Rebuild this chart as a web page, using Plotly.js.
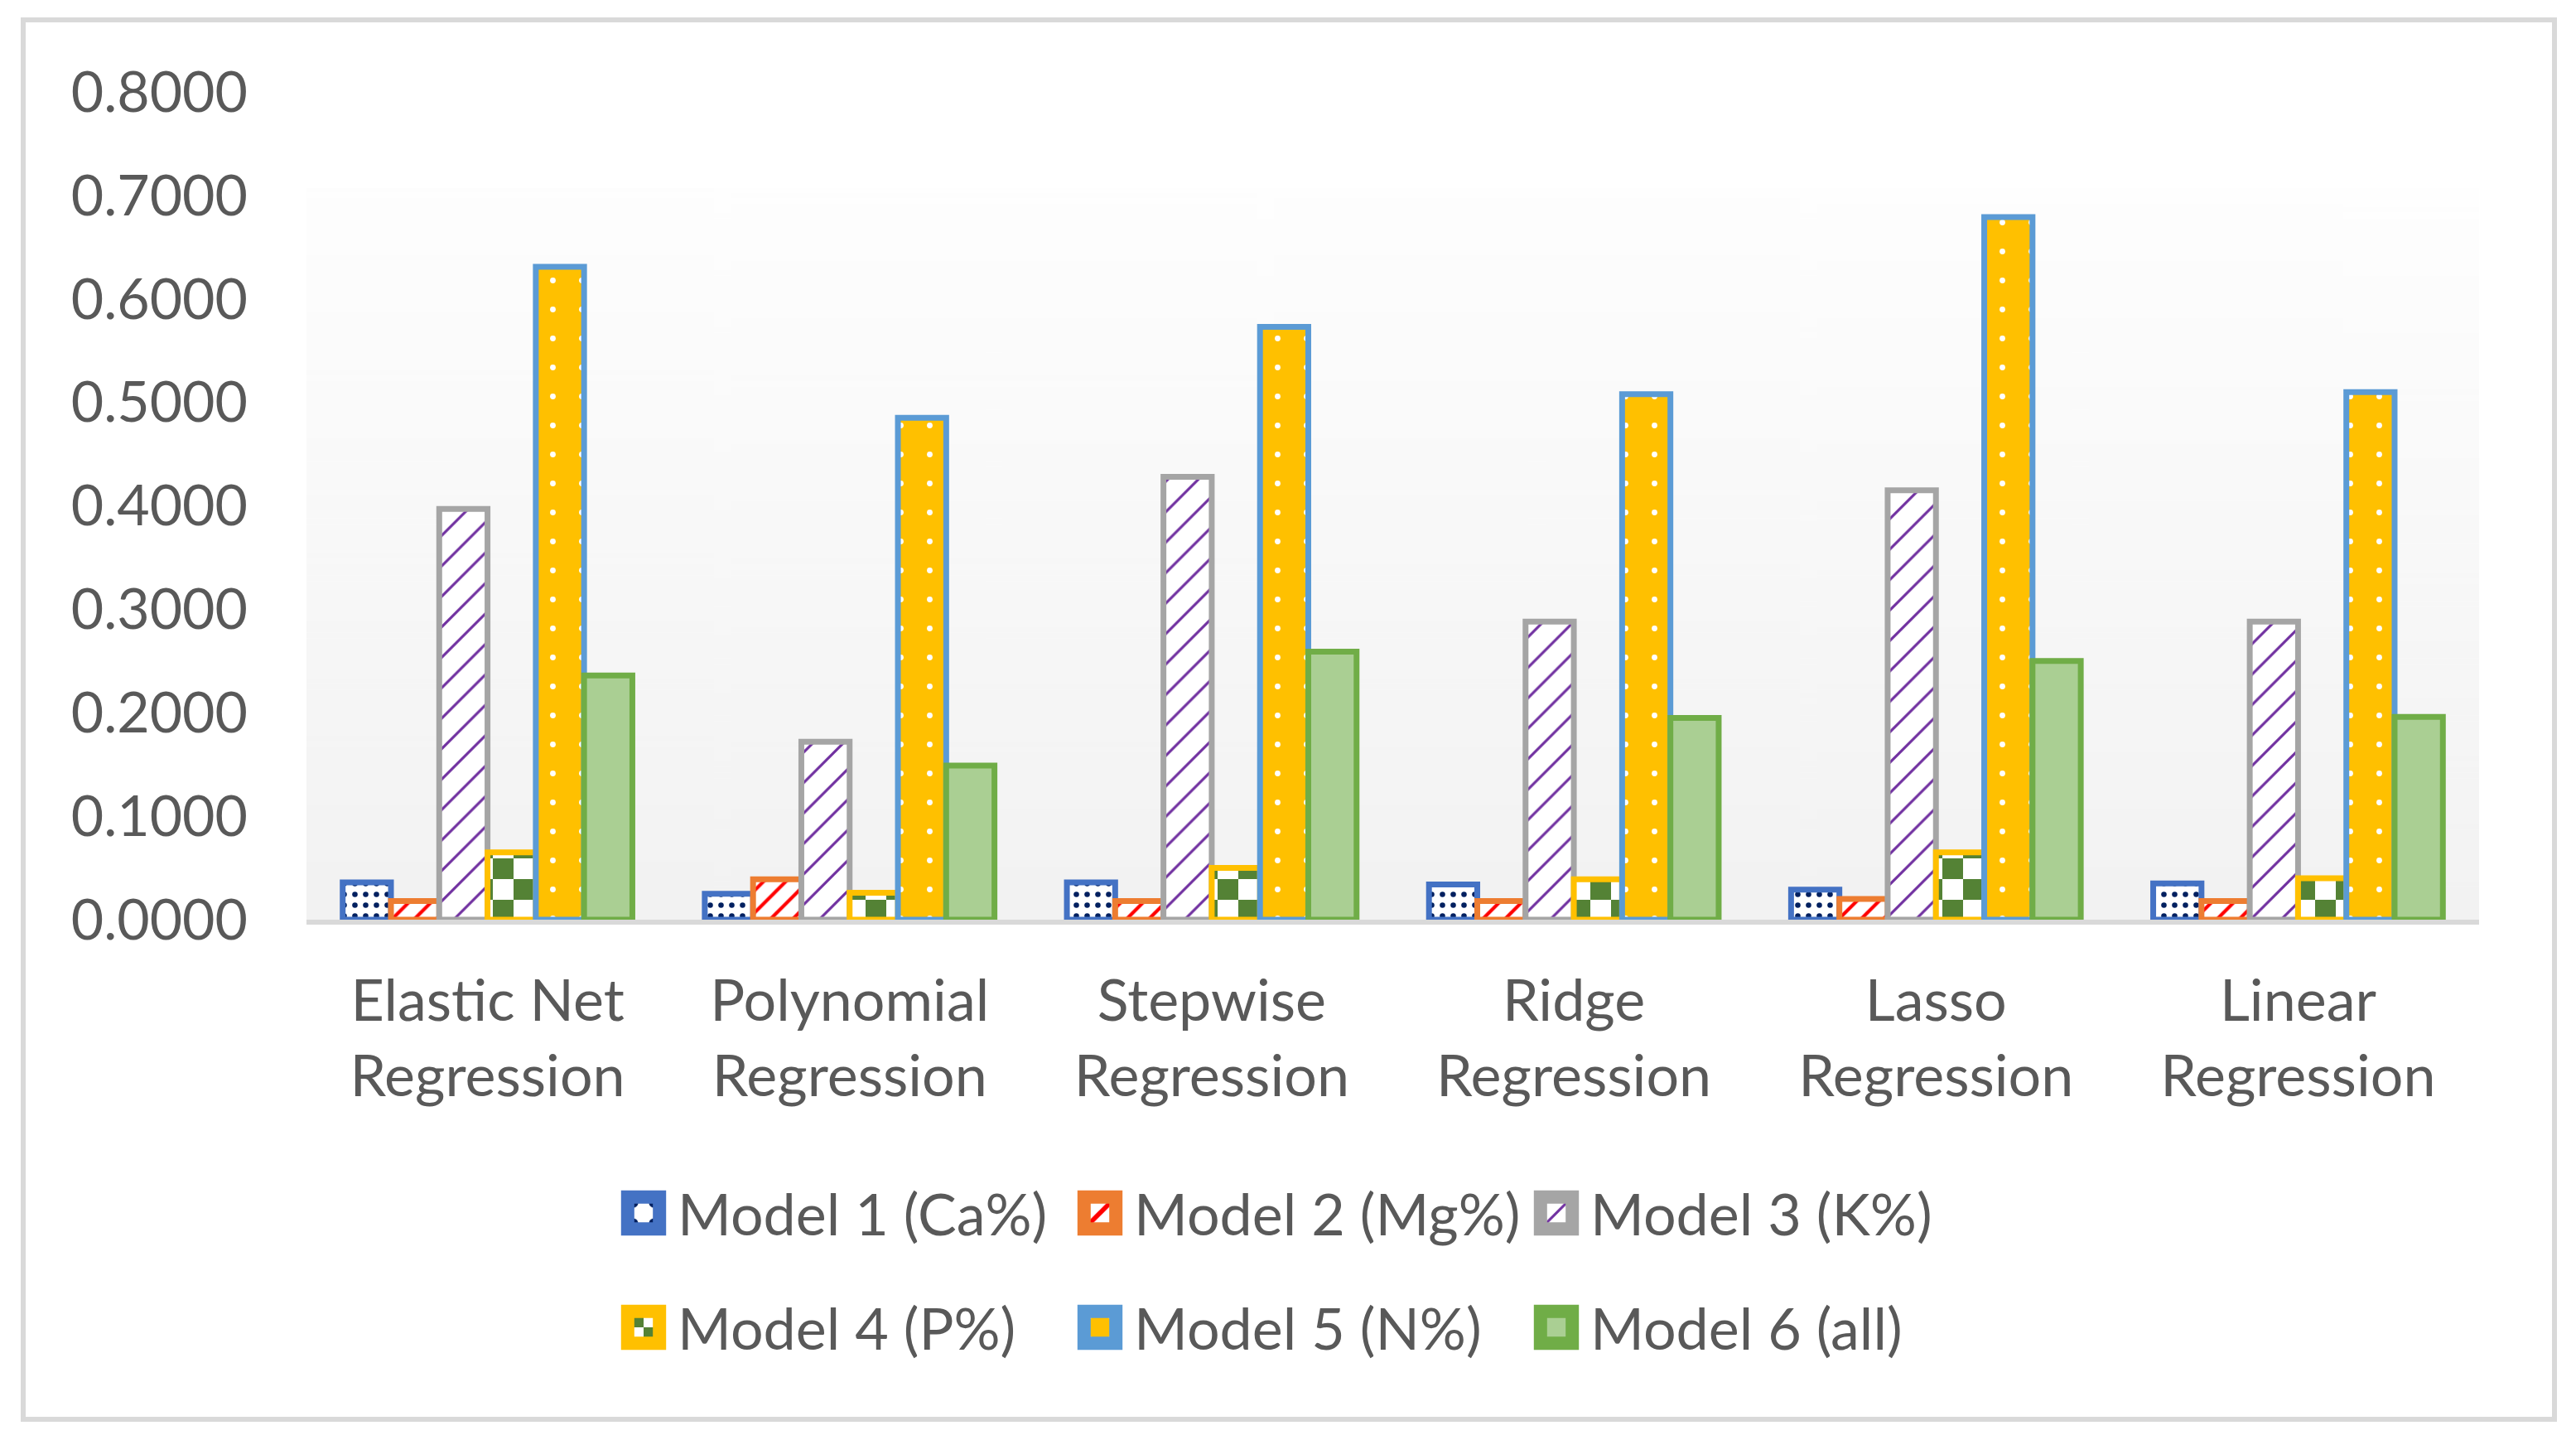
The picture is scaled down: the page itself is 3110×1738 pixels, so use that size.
<!DOCTYPE html>
<html>
<head>
<meta charset="utf-8">
<script src="https://cdn.plot.ly/plotly-3.0.1.min.js"></script>
<style>
  html, body { margin: 0; padding: 0; background: #ffffff; }
  #chart { width: 3110px; height: 1738px; }
</style>
</head>
<body>
<div id="chart"></div>
<script>
// ---- data ----
const categories = [
  'Elastic Net<br>Regression',
  'Polynomial<br>Regression',
  'Stepwise<br>Regression',
  'Ridge<br>Regression',
  'Lasso<br>Regression',
  'Linear<br>Regression'
];
const seriesNames = ['Model 1 (Ca%)', 'Model 2 (Mg%)', 'Model 3 (K%)', 'Model 4 (P%)', 'Model 5 (N%)', 'Model 6 (all)'];
const model1 = [0.036, 0.025, 0.036, 0.034, 0.029, 0.035];
const model2 = [0.018, 0.039, 0.018, 0.018, 0.020, 0.018];
const model3 = [0.397, 0.172, 0.428, 0.288, 0.415, 0.288];
const model4 = [0.065, 0.026, 0.050, 0.039, 0.065, 0.040];
const model5 = [0.631, 0.485, 0.573, 0.508, 0.679, 0.510];
const model6 = [0.236, 0.149, 0.259, 0.195, 0.250, 0.196];
const tickValues = [0, 0.1, 0.2, 0.3, 0.4, 0.5, 0.6, 0.7, 0.8];

// ---- styles ----
const FONT = 'Lato, "Open Sans", sans-serif';
const TXT = '#595959';
const LW = 7;
const styles = [
  {line: '#4472c4', pattern: {shape: '.', fgcolor: '#002060', bgcolor: '#ffffff', size: 13, solidity: 0.2, fillmode: 'replace'}},
  {line: '#ed7d31', pattern: {shape: '/', fgcolor: '#ff0000', bgcolor: '#ffffff', size: 19, solidity: 0.22, fillmode: 'replace'}},
  {line: '#a5a5a5', pattern: {shape: '/', fgcolor: '#7030a0', bgcolor: '#ffffff', size: 26, solidity: 0.12, fillmode: 'replace'}},
  {line: '#ffc000', pattern: {shape: '+', fgcolor: '#548235', bgcolor: '#ffffff', size: 50, solidity: 0.5, fillmode: 'replace'}},
  {line: '#5b9bd5', pattern: {shape: '.', fgcolor: '#ffffff', bgcolor: '#ffc000', size: 35, solidity: 0.03, fillmode: 'replace'}},
  {line: '#70ad47', color: '#aacf93'}
];
const seriesValues = [model1, model2, model3, model4, model5, model6];

const traces = seriesValues.map((vals, i) => {
  const st = styles[i];
  const marker = {line: {color: st.line, width: LW}};
  if (st.pattern) { marker.color = st.pattern.bgcolor; marker.pattern = st.pattern; }
  else { marker.color = st.color; }
  return {
    type: 'bar', x: categories, y: vals, name: seriesNames[i],
    marker: marker,
    legend: i < 3 ? 'legend' : 'legend2',
    hoverinfo: 'x+y+name'
  };
});

// gradient background for the inner plot area
function gradientURL() {
  const c = document.createElement('canvas');
  c.width = 8; c.height = 256;
  const g = c.getContext('2d');
  const grd = g.createLinearGradient(0, 0, 0, 256);
  grd.addColorStop(0, '#fefefe');
  grd.addColorStop(1, '#f2f2f2');
  g.fillStyle = grd; g.fillRect(0, 0, 8, 256);
  return c.toDataURL('image/png');
}

const W = 3110, H = 1738;
const mL = 370, mR = 117, mT = 111, mB = 628;
const pw = W - mL - mR, ph = H - mT - mB;
const px = v => (v - mL) / pw;
const py = v => (H - mB - v) / ph;
const bgTop = 0.707;

const legendCommon = {
  orientation: 'h', xanchor: 'left', yanchor: 'middle',
  font: {family: FONT, size: 70, color: TXT},
  bgcolor: 'rgba(0,0,0,0)', borderwidth: 0,
  entrywidth: 464, entrywidthmode: 'pixels', itemwidth: 72,
  traceorder: 'normal'
};

const layout = {
  width: W, height: H,
  margin: {l: mL, r: mR, t: mT, b: mB, pad: 0},
  paper_bgcolor: '#ffffff',
  plot_bgcolor: 'rgba(0,0,0,0)',
  barmode: 'group', bargap: 0.2, bargroupgap: 0,
  font: {family: FONT, color: TXT},
  xaxis: {
    type: 'category', showgrid: false, zeroline: false,
    showline: true, linecolor: '#d9d9d9', linewidth: 6,
    ticks: '', tickfont: {family: FONT, size: 70, color: TXT},
    ticklabelstandoff: 32, fixedrange: true
  },
  yaxis: {
    range: [0, 0.8], tickvals: tickValues, tickformat: '.4f',
    showgrid: false, zeroline: false, showline: false, ticks: '',
    tickfont: {family: FONT, size: 68, color: TXT},
    ticklabelstandoff: 70, fixedrange: true
  },
  images: [{
    source: gradientURL(), xref: 'paper', yref: 'y',
    x: 0, y: bgTop, sizex: 1, sizey: bgTop, sizing: 'stretch',
    xanchor: 'left', yanchor: 'top', layer: 'below'
  }],
  shapes: [{
    type: 'rect', xref: 'paper', yref: 'paper',
    x0: px(28), x1: px(3084), y0: py(1713), y1: py(24),
    line: {color: '#d9d9d9', width: 6}, fillcolor: 'rgba(0,0,0,0)', layer: 'below'
  }],
  legend: Object.assign({}, legendCommon, {x: px(736), y: py(1464)}),
  legend2: Object.assign({}, legendCommon, {x: px(736), y: py(1602)}),
  showlegend: true
};

function decorate() {
  // checkerboard for model 4
  document.querySelectorAll('pattern').forEach(p => {
    if (p.getAttribute('data-done')) return;
    const path = p.querySelector('path');
    if (!path) return;
    const stroke = (path.getAttribute('stroke') || path.style.stroke || '').replace(/\s/g, '');
    if (stroke === '#548235' || stroke === 'rgb(84,130,53)') {
      const ns = 'http://www.w3.org/2000/svg';
      while (p.firstChild) p.removeChild(p.firstChild);
      p.setAttribute('width', 50); p.setAttribute('height', 50);
      const mk = (x, y, w, h, f) => { const r = document.createElementNS(ns, 'rect');
        r.setAttribute('x', x); r.setAttribute('y', y); r.setAttribute('width', w); r.setAttribute('height', h);
        r.setAttribute('fill', f); p.appendChild(r); };
      mk(0, 0, 50, 50, '#ffffff');
      mk(0, 0, 25, 25, '#548235');
      mk(25, 25, 25, 25, '#548235');
      p.setAttribute('data-done', '1');
    }
  });
  // enlarge legend symbols to the reference size
  document.querySelectorAll('.legendsymbols').forEach(el => {
    if (el.getAttribute('data-done')) return;
    const b = el.getBBox();
    const cx = b.x + b.width / 2, cy = b.y + b.height / 2;
    const k = 3.2;
    const ex = el.getAttribute('transform') || '';
    el.setAttribute('transform', ex + ` translate(${cx},${cy}) scale(${k}) translate(${-cx},${-cy})`);
    el.setAttribute('data-done', '1');
  });
}

Plotly.newPlot('chart', traces, layout, {displayModeBar: false, staticPlot: true}).then(() => {
  decorate();
  requestAnimationFrame(decorate);
  setTimeout(decorate, 50);
});
</script>
</body>
</html>
